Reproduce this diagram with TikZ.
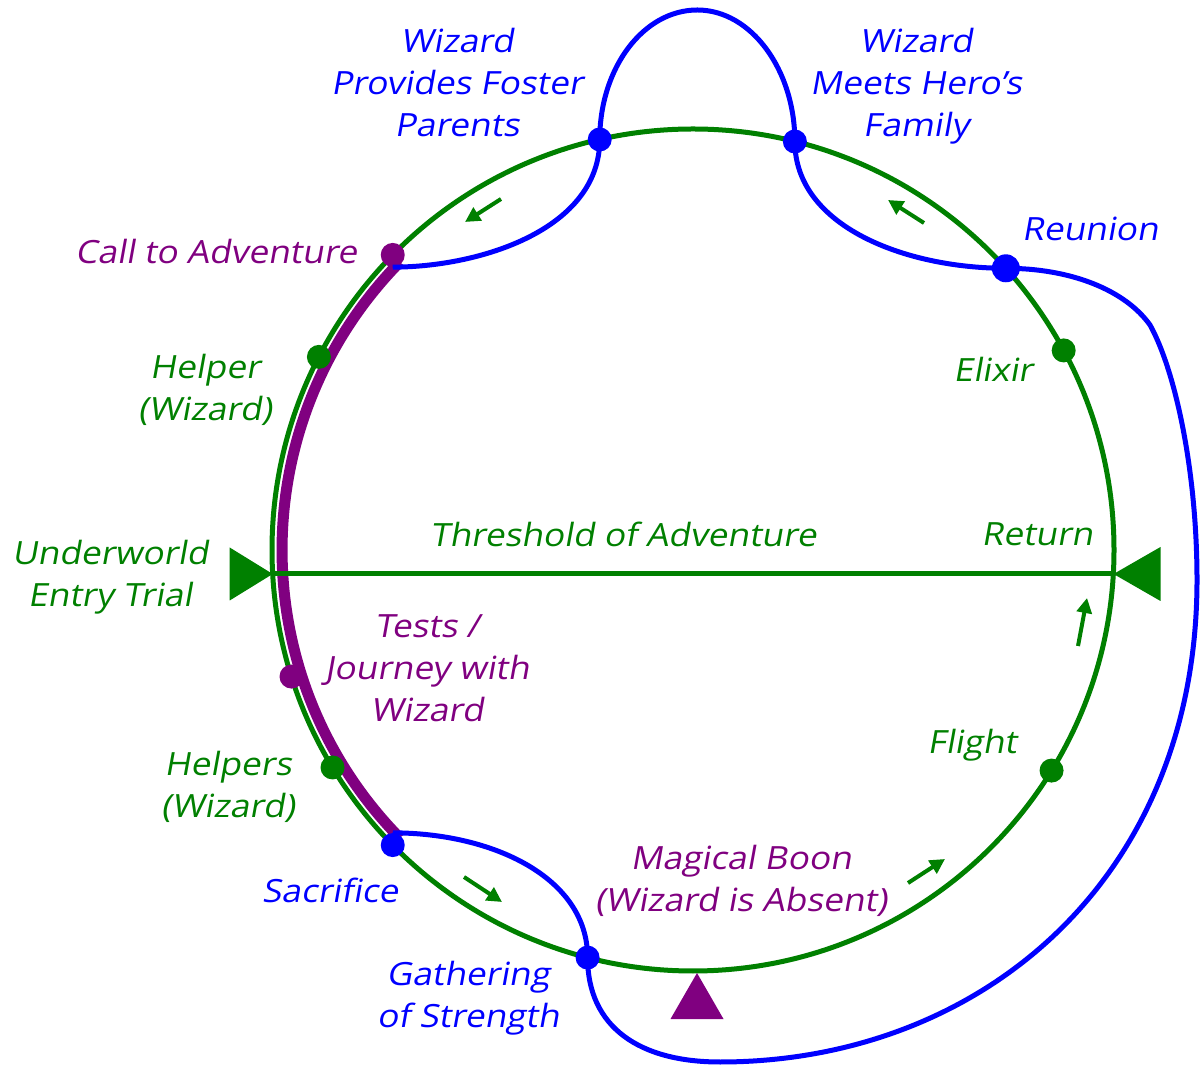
\documentclass[tikz,border=0pt]{standalone}
\usepackage{fontspec}
\setmainfont{Open Sans}[FakeSlant=0.18, FakeStretch=1.1]
\usetikzlibrary{arrows.meta}
\definecolor{wizblue}{RGB}{0,0,255}
\definecolor{herogreen}{RGB}{0,128,0}
\definecolor{boonpurple}{RGB}{128,0,128}

\begin{document}
\begin{tikzpicture}[
  x=1pt, y=1pt,
  >={Triangle[length=15pt,width=15pt]},
  every node/.style={font=\fontsize{32}{42}\selectfont, align=center},
  dot/.style={circle, inner sep=0pt, minimum size=24pt},
  bluedot/.style={dot, fill=wizblue},
  greendot/.style={dot, fill=herogreen},
  purpledot/.style={dot, fill=boonpurple},
  wizline/.style={line width=5pt, wizblue},
  ringline/.style={line width=5pt, herogreen}
]
  \useasboundingbox (0,0) rectangle (1201,1065);
  \fill[white] (0,0) rectangle (1201,1065);
  \coordinate (c) at (693,515);

  % the journey ring and the guided part
  \draw[ringline] (c) circle[radius=421];
  \draw[line width=11pt, boonpurple] ([shift={(135.5:411)}]c)
    arc[start angle=135.5, end angle=224.5, radius=411];

  % threshold
  \coordinate (thw) at (272.7,491);
  \coordinate (the) at (1113.5,491);
  \draw[ringline] (thw) -- (the);
  \fill[herogreen] (thw) -- ++(-43,26.5) -- ++(0,-53) -- cycle;
  \fill[herogreen] (the) -- ++(47,27) -- ++(0,-54) -- cycle;
  \coordinate (boontip) at (697,92);
  \fill[boonpurple] (boontip) -- ++(-26.5,-46) -- ++(53,0) -- cycle;

  % stages on the ring
  \foreach \ang/\nm/\sty in {135.5/call/purpledot, 152.7/helper/greendot,
      197.5/tests/purpledot, 211.1/helpers/greendot, 224.5/sacrifice/bluedot,
      255.5/gathering/bluedot, 328.4/flight/greendot, 28.3/elixir/greendot,
      76/family/bluedot, 102.8/foster/bluedot}
    \node[\sty] (\nm) at ([shift={(\ang:421)}]c) {};
  \node[bluedot, minimum size=28pt] (reunion) at ([shift={(42:421)}]c) {};

  % wizard's path
  \coordinate (archtop) at (697.3,1055);
  \coordinate (shoulder) at (1150,740);
  \coordinate (farright) at (1197,485);
  \coordinate (bottom) at (720,3);
  \draw[wizline] (foster.center) .. controls +(0,71.5) and +(-53.9,0) .. (archtop)
    .. controls +(53.9,0) and +(0,71.5) .. (family.center);
  \draw[wizline] (foster.center) .. controls +(0,-90) and +(87,0) .. (call.south);
  \draw[wizline] (family.center) .. controls +(0,-85) and +(-100,0) .. (reunion.center);
  \draw[wizline] (reunion.center) .. controls +(65,0) and +(-25,35) .. (shoulder)
    .. controls +(25,-45) and +(0,110) .. (farright)
    .. controls +(0,-300) and +(260,0) .. (bottom)
    .. controls +(-80,0) and +(0,-70) .. (gathering.center);
  \draw[wizline] (gathering.center) .. controls +(0,80) and +(100,0) .. (sacrifice.north);

  % direction of travel
  \foreach \p/\q in {{501,866}/{465,843}, {924,842}/{888,865}, {1078,419}/{1087,467},
      {908,182}/{945,206}, {464,188}/{502,163}}
    \draw[->, line width=4pt, herogreen] (\p) -- (\q);

  % labels
  \node[wizblue] (fosterlbl) at (457,982) {Wizard\\Provides Foster\\Parents};
  \node[wizblue] (familylbl) at (916,979) {Wizard\\Meets Hero’s\\Family};
  \node[boonpurple] (calllbl) at (216,813) {Call to Adventure};
  \node[wizblue] (reunionlbl) at (1090,836) {Reunion};
  \node[herogreen] (helperlbl) at (205,675) {Helper\\(Wizard)};
  \node[herogreen] (elixirlbl) at (993,696) {Elixir};
  \node[herogreen] (underlbl) at (110,488) {Underworld\\Entry Trial};
  \node[herogreen] (threshlbl) at (623,531) {Threshold of Adventure};
  \node[herogreen] (returnlbl) at (1037,531) {Return};
  \node[boonpurple] (testslbl) at (427,397) {Tests /\\Journey with\\Wizard};
  \node[herogreen] (flightlbl) at (972,320) {Flight};
  \node[herogreen] (helperslbl) at (228,278) {Helpers\\(Wizard)};
  \node[wizblue] (sacrificelbl) at (330,175) {Sacrifice};
  \node[boonpurple] (boonlbl) at (741,184) {Magical Boon\\(Wizard is Absent)};
  \node[wizblue] (gatherlbl) at (468,67) {Gathering\\of Strength};
\end{tikzpicture}
\end{document}
